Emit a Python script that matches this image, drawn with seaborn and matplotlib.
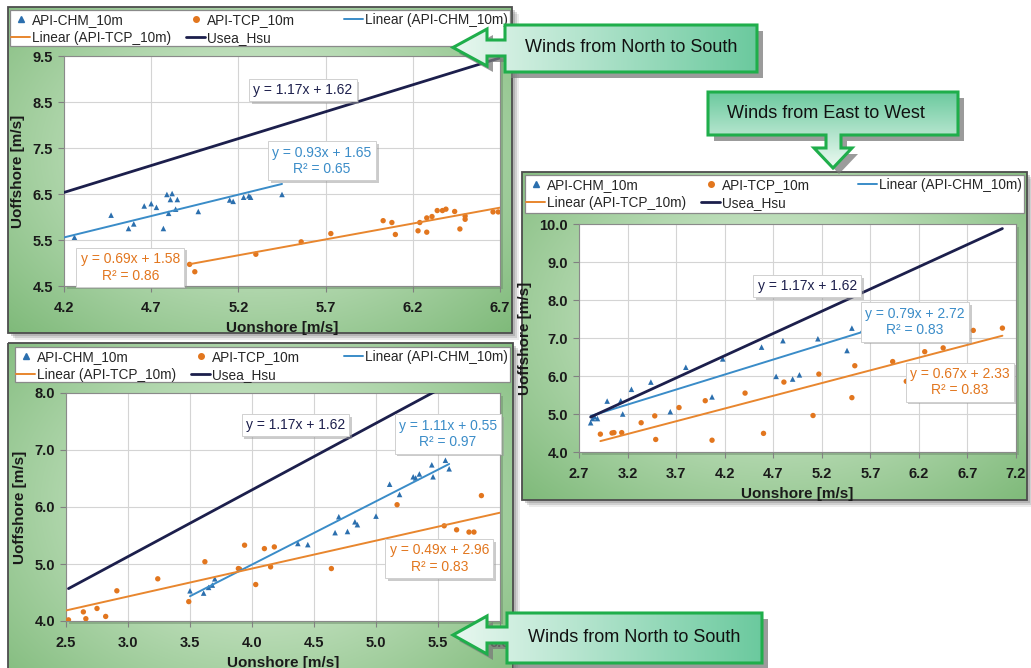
import numpy as np
import pandas as pd
import matplotlib
matplotlib.use("Agg")
import matplotlib.pyplot as plt
import matplotlib.patheffects as pe
import seaborn as sns
from matplotlib.patches import Polygon, Rectangle
from matplotlib.lines import Line2D

sns.set_theme(style="white")
plt.rcParams["font.family"] = ["Liberation Sans", "DejaVu Sans"]

# ---------------- data ----------------
labels = ["API-CHM_10m", "API-TCP_10m", "Linear (API-CHM_10m)", "Linear (API-TCP_10m)", "Usea_Hsu"]
callout_texts = ["Winds from North to South", "Winds from East to West", "Winds from North to South"]
x_label = "Uonshore [m/s]"
y_label = "Uoffshore [m/s]"

# Usea_Hsu reference relation
usea_slope, usea_icpt = 1.17, 1.62

# Panel A (top-left): winds from North to South
a_chm_x = [4.26, 4.47, 4.57, 4.60, 4.66, 4.70, 4.73, 4.77, 4.79, 4.82, 4.81, 4.80, 4.85, 4.84, 4.97,
           5.15, 5.17, 5.23, 5.26, 5.27, 5.45]
a_chm_y = [5.56, 6.04, 5.75, 5.85, 6.24, 6.29, 6.21, 5.75, 6.49, 6.51, 6.38, 6.08, 6.38, 6.17, 6.12,
           6.37, 6.34, 6.43, 6.46, 6.43, 6.49]
a_tcp_x = [4.92, 4.95, 5.30, 5.56, 5.73, 6.03, 6.08, 6.10, 6.23, 6.24, 6.28, 6.28, 6.31, 6.34, 6.37,
           6.39, 6.44, 6.47, 6.50, 6.50, 6.66, 6.69]
a_tcp_y = [4.97, 4.81, 5.19, 5.46, 5.64, 5.92, 5.88, 5.62, 5.70, 5.88, 5.98, 5.67, 6.01, 6.14, 6.14,
           6.17, 6.12, 5.74, 6.02, 5.95, 6.11, 6.11]
a_chm_fit = (0.93, 1.65, 0.65)
a_tcp_fit = (0.69, 1.58, 0.86)
a_chm_range = (4.20, 5.45)
a_tcp_range = (4.92, 6.70)
a_usea_range = (4.20, 6.70)
a_xticks = [4.2, 4.7, 5.2, 5.7, 6.2, 6.7]
a_yticks = [4.5, 5.5, 6.5, 7.5, 8.5, 9.5]

# Panel B (bottom-left): winds from North to South
b_chm_x = [3.50, 3.61, 3.65, 3.68, 3.70, 4.37, 4.45, 4.67, 4.70, 4.77, 4.83, 4.85, 5.00, 5.11,
           5.19, 5.30, 5.32, 5.35, 5.45, 5.46, 5.56, 5.59]
b_chm_y = [4.53, 4.49, 4.59, 4.63, 4.74, 5.36, 5.34, 5.55, 5.83, 5.57, 5.74, 5.69, 5.84, 6.40,
           6.22, 6.53, 6.51, 6.58, 6.74, 6.53, 6.82, 6.67]
b_tcp_x = [2.52, 2.64, 2.66, 2.75, 2.82, 2.91, 3.24, 3.49, 3.62, 3.89, 3.90, 3.94, 4.03, 4.10,
           4.15, 4.18, 4.64, 5.17, 5.55, 5.65, 5.75, 5.79, 5.85]
b_tcp_y = [4.02, 4.16, 4.04, 4.22, 4.08, 4.53, 4.74, 4.34, 5.04, 4.92, 4.91, 5.33, 4.64, 5.27,
           4.95, 5.30, 4.92, 6.04, 5.67, 5.60, 5.56, 5.56, 6.20]
b_chm_fit = (1.11, 0.55, 0.97)
b_tcp_fit = (0.49, 2.96, 0.83)
b_chm_range = (3.50, 5.59)
b_tcp_range = (2.50, 6.00)
b_usea_range = (2.52, 6.00)
b_xticks = [2.5, 3.0, 3.5, 4.0, 4.5, 5.0, 5.5, 6.0]
b_yticks = [4.0, 5.0, 6.0, 7.0, 8.0]

# Panel C (right): winds from East to West
c_chm_x = [2.82, 2.84, 2.86, 2.89, 2.99, 3.13, 3.15, 3.24, 3.44, 3.64, 3.80, 4.07, 4.18, 4.58,
           4.73, 4.80, 4.90, 4.97, 5.16, 5.46, 5.51, 5.62]
c_chm_y = [4.77, 4.88, 4.93, 4.88, 5.34, 5.35, 5.00, 5.65, 5.84, 5.06, 6.23, 5.45, 6.45, 6.76,
           5.99, 6.93, 5.92, 6.03, 6.98, 6.67, 7.26, 7.21]
c_tcp_x = [2.92, 3.04, 3.06, 3.14, 3.34, 3.48, 3.49, 3.73, 4.00, 4.07, 4.41, 4.60, 4.81, 5.11,
           5.17, 5.51, 5.54, 5.93, 6.07, 6.26, 6.45, 6.69, 6.76, 7.06]
c_tcp_y = [4.47, 4.50, 4.51, 4.51, 4.77, 4.95, 4.33, 5.17, 5.35, 4.31, 5.55, 4.49, 5.84, 4.96,
           6.05, 5.43, 6.27, 6.38, 5.86, 6.64, 6.74, 7.04, 7.20, 7.26]
c_chm_fit = (0.79, 2.72, 0.83)
c_tcp_fit = (0.67, 2.33, 0.83)
c_chm_range = (2.82, 5.62)
c_tcp_range = (2.92, 7.06)
c_usea_range = (2.82, 7.06)
c_xticks = [2.7, 3.2, 3.7, 4.2, 4.7, 5.2, 5.7, 6.2, 6.7, 7.2]
c_yticks = [4.0, 5.0, 6.0, 7.0, 8.0, 9.0, 10.0]

# ---------------- style ----------------
C_CHM_PT = "#2b6fae"
C_CHM_LN = "#3a8cc8"
C_TCP_PT = "#e2761e"
C_TCP_LN = "#e8862e"
C_USEA = "#1c1f4c"
GREEN = "#1fae4b"

W, H = 1031, 668
fig = plt.figure(figsize=(W / 100, H / 100), dpi=100)
fig.patch.set_facecolor("white")


def fpos(x0, y0, x1, y1):
    return [x0 / W, 1 - y1 / H, (x1 - x0) / W, (y1 - y0) / H]


bg = fig.add_axes([0, 0, 1, 1], zorder=0)
bg.axis("off")


def radial(w, h, c_in, c_out):
    yy, xx = np.mgrid[0:1:h * 1j, 0:1:w * 1j]
    d = np.sqrt(((xx - 0.5) / 0.5) ** 2 + ((yy - 0.45) / 0.55) ** 2) / np.sqrt(2)
    t = np.clip(d, 0, 1) ** 1.1
    ci, co = np.array(c_in), np.array(c_out)
    return ci[None, None, :] * (1 - t[..., None]) + co[None, None, :] * t[..., None]


panels = [
    dict(frame=(8, 7, 512, 333), legend=(10, 10, 510, 46), plot=(64, 56, 500, 286)),
    dict(frame=(8, 343, 513, 700), legend=(15, 347, 510, 382), plot=(66, 393, 500, 621)),
    dict(frame=(522, 172, 1027, 500), legend=(525, 175, 1024, 213), plot=(579, 224, 1016, 452)),
]

for p in panels:
    x0, y0, x1, y1 = p["frame"]
    for k, a in [(7, 0.15), (5, 0.25), (3, 0.35)]:
        bg.add_patch(Rectangle((x0 + k, y0 + k), x1 - x0, y1 - y0, fc="#808080", ec="none", alpha=a, zorder=1))
    img = radial(120, 90, (0.88, 0.95, 0.87), (0.50, 0.73, 0.48))
    bg.imshow(img, extent=(x0, x1, y1, y0), aspect="auto", zorder=2, interpolation="bilinear")
    bg.add_patch(Rectangle((x0, y0), x1 - x0, y1 - y0, fc="none", ec="#4d4d4d", lw=1.3, zorder=3))
    lx0, ly0, lx1, ly1 = p["legend"]
    bg.add_patch(Rectangle((lx0, ly0), lx1 - lx0, ly1 - ly0, fc="white", ec="#8a8a8a", lw=0.9, zorder=3))
    px0, py0, px1, py1 = p["plot"]
    bg.add_patch(Rectangle((px0 + 3, py0 + 3), px1 - px0, py1 - py0, fc="#6f8f6d", ec="none", alpha=0.5, zorder=3))
bg.set_xlim(0, W)
bg.set_ylim(H, 0)


def line_df(slope, icpt, xr):
    d = pd.DataFrame({"x": list(xr)})
    d["y"] = slope * d["x"] + icpt
    return d


def draw_panel(p, chm_x, chm_y, tcp_x, tcp_y, chm_fit, tcp_fit, chm_r, tcp_r, usea_r,
               xticks, yticks, eq_pos):
    ax = fig.add_axes(fpos(*p["plot"]), zorder=2)
    ax.set_facecolor("white")
    sns.scatterplot(data=pd.DataFrame({"x": chm_x, "y": chm_y}), x="x", y="y", marker="^", s=16,
                    color=C_CHM_PT, edgecolor="none", ax=ax, zorder=3)
    sns.scatterplot(data=pd.DataFrame({"x": tcp_x, "y": tcp_y}), x="x", y="y", marker="o", s=15,
                    color=C_TCP_PT, edgecolor="none", ax=ax, zorder=3)
    sns.lineplot(data=line_df(chm_fit[0], chm_fit[1], chm_r), x="x", y="y", color=C_CHM_LN, lw=1.4, ax=ax, zorder=4)
    sns.lineplot(data=line_df(tcp_fit[0], tcp_fit[1], tcp_r), x="x", y="y", color=C_TCP_LN, lw=1.4, ax=ax, zorder=4)
    sns.lineplot(data=line_df(usea_slope, usea_icpt, usea_r), x="x", y="y", color=C_USEA, lw=2.0, ax=ax, zorder=4)
    ax.set_xlim(xticks[0], xticks[-1])
    ax.set_ylim(yticks[0], yticks[-1])
    ax.set_xticks(xticks)
    ax.set_yticks(yticks)
    ax.set_xticklabels([f"{v:.1f}" for v in xticks])
    ax.set_yticklabels([f"{v:.1f}" for v in yticks])
    ax.tick_params(axis="both", which="major", direction="out", length=4, width=0.8, color="#808080",
                   labelsize=10.5, labelcolor="#1a1a1a", bottom=True, left=True, pad=4)
    ax.tick_params(axis="x", pad=7)
    for t in ax.get_xticklabels() + ax.get_yticklabels():
        t.set_fontweight("bold")
    ax.grid(True, color="#d4d4d4", lw=0.8)
    for s in ax.spines.values():
        s.set_color("#8a8a8a")
        s.set_linewidth(0.8)
    ax.set_xlabel(x_label, fontsize=11, fontweight="bold", color="#1a1a1a", labelpad=4)
    ax.set_ylabel(y_label, fontsize=11, fontweight="bold", color="#1a1a1a", labelpad=5)

    texts = [
        (f"y = {usea_slope:.2f}x + {usea_icpt:.2f}", C_USEA, eq_pos[0]),
        (f"y = {chm_fit[0]:.2f}x + {chm_fit[1]:.2f}\nR² = {chm_fit[2]:.2f}", C_CHM_LN, eq_pos[1]),
        (f"y = {tcp_fit[0]:.2f}x + {tcp_fit[1]:.2f}\nR² = {tcp_fit[2]:.2f}", C_TCP_PT, eq_pos[2]),
    ]
    for s, c, (ex, ey) in texts:
        t = ax.text(ex, ey, s, ha="center", va="center", color=c, fontsize=10,
                    linespacing=1.25, zorder=6,
                    bbox=dict(boxstyle="square,pad=0.3", fc="white", ec="#d0d0d0", lw=0.7))
        t.get_bbox_patch().set_path_effects([pe.withSimplePatchShadow(offset=(2, -2), shadow_rgbFace="#999999", alpha=0.5)])

    # legend
    h = {
        labels[0]: Line2D([], [], marker="^", ls="none", color=C_CHM_PT, markersize=4),
        labels[1]: Line2D([], [], marker="o", ls="none", color=C_TCP_PT, markersize=4),
        labels[2]: Line2D([], [], color=C_CHM_LN, lw=1.4),
        labels[3]: Line2D([], [], color=C_TCP_LN, lw=1.4),
        labels[4]: Line2D([], [], color=C_USEA, lw=2.0),
    }
    lx0, ly0, lx1, ly1 = p["legend"]
    order = [labels[0], labels[3], labels[1], labels[4]]
    kw = dict(frameon=False, handlelength=1.4, handletextpad=0.15, labelspacing=0.3,
              borderpad=0.0, borderaxespad=0.0, prop={"size": 9.8})
    leg1 = ax.legend([h[k] for k in order], order, ncol=2, loc="upper left", columnspacing=1.1,
                     bbox_to_anchor=((lx0 + 1) / W, 1 - (ly0 + 3) / H), bbox_transform=fig.transFigure, **kw)
    ax.add_artist(leg1)
    ax.legend([h[labels[2]]], [labels[2]], loc="upper right",
              bbox_to_anchor=((lx1 - 2) / W, 1 - (ly0 + 3) / H), bbox_transform=fig.transFigure, **kw)
    return ax


axA = draw_panel(panels[0], a_chm_x, a_chm_y, a_tcp_x, a_tcp_y, a_chm_fit, a_tcp_fit,
                 a_chm_range, a_tcp_range, a_usea_range, a_xticks, a_yticks,
                 [(5.57, 8.76), (5.68, 7.22), (4.58, 4.91)])
axB = draw_panel(panels[1], b_chm_x, b_chm_y, b_tcp_x, b_tcp_y, b_chm_fit, b_tcp_fit,
                 b_chm_range, b_tcp_range, b_usea_range, b_xticks, b_yticks,
                 [(4.35, 7.44), (5.58, 7.28), (5.51, 5.10)])
axC = draw_panel(panels[2], c_chm_x, c_chm_y, c_tcp_x, c_tcp_y, c_chm_fit, c_tcp_fit,
                 c_chm_range, c_tcp_range, c_usea_range, c_xticks, c_yticks,
                 [(5.05, 8.37), (6.16, 7.42), (6.62, 5.84)])

# ---------------- callouts ----------------
top = fig.add_axes([0, 0, 1, 1], zorder=20)
top.patch.set_alpha(0)
top.axis("off")


def hgrad(c_left, c_right, n=200):
    t = np.linspace(0, 1, n)[None, :, None]
    return np.array(c_left)[None, None, :] * (1 - t) + np.array(c_right)[None, None, :] * t


def vgrad(c_top, c_bot, n=200):
    t = np.linspace(0, 1, n)[:, None, None]
    return np.array(c_top)[None, None, :] * (1 - t) + np.array(c_bot)[None, None, :] * t


def callout(pts, img, extent, text, tx, ty):
    sh = Polygon([(x + 6, y + 6) for x, y in pts], closed=True, fc="#7a7a7a", ec="none", alpha=0.75, zorder=1)
    top.add_patch(sh)
    clip = Polygon(pts, closed=True, fc="none", ec="none", transform=top.transData)
    top.add_patch(clip)
    im = top.imshow(img, extent=extent, aspect="auto", zorder=2, interpolation="bilinear")
    im.set_clip_path(clip)
    top.add_patch(Polygon(pts, closed=True, fc="none", ec=GREEN, lw=2.2, joinstyle="miter", zorder=3))
    top.text(tx, ty, text, ha="center", va="center", fontsize=13, color="#111111", zorder=4)


LIGHT = (0.91, 0.97, 0.94)
DARK = (0.42, 0.79, 0.62)

# top-left: arrow pointing left
pts1 = [(505, 25), (757, 25), (757, 72), (505, 72), (505, 56), (487, 56), (487, 66), (453, 47.5),
        (487, 29), (487, 40), (505, 40)]
callout(pts1, hgrad(LIGHT, DARK), (453, 757, 72, 25), callout_texts[0], 631, 48)

# right: arrow pointing down
pts2 = [(708, 92), (958, 92), (958, 135), (841, 135), (841, 148), (852, 148), (833, 168), (814, 148),
        (826, 148), (826, 135), (708, 135)]
callout(pts2, vgrad(DARK, (0.93, 0.98, 0.95)), (708, 958, 168, 92), callout_texts[1], 826, 114)

# bottom: arrow pointing left
pts3 = [(507, 613), (762, 613), (762, 663), (507, 663), (507, 643), (487, 643), (487, 654), (453, 635),
        (487, 616), (487, 627), (507, 627)]
callout(pts3, hgrad(LIGHT, DARK), (453, 762, 663, 613), callout_texts[2], 634, 637)

top.set_xlim(0, W)
top.set_ylim(H, 0)

fig.savefig("out.png", dpi=100, facecolor="white")
